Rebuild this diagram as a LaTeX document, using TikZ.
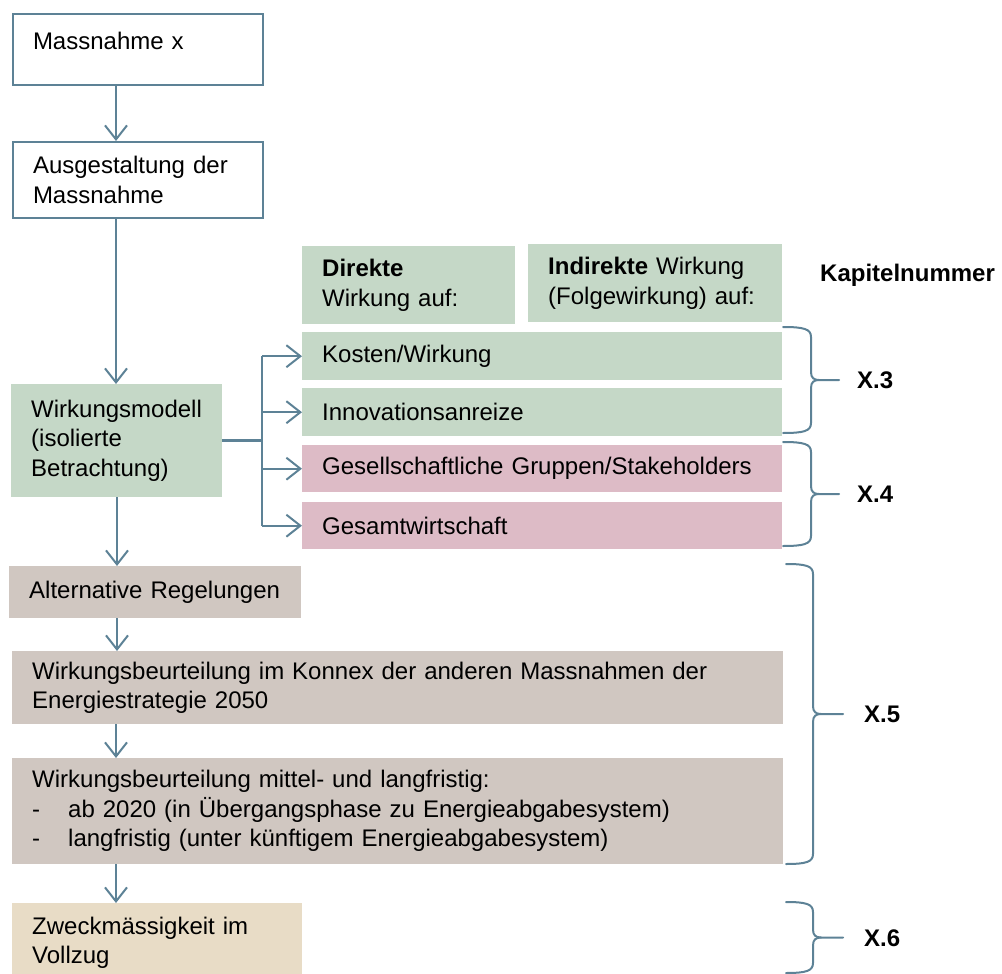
\documentclass[tikz,border=0pt]{standalone}
\usepackage{fontspec}
\setmainfont{Liberation Sans}
\usetikzlibrary{arrows.meta}

\definecolor{edge}{RGB}{93,130,150}
\definecolor{mgreen}{RGB}{197,216,199}
\definecolor{mpink}{RGB}{221,187,198}
\definecolor{mtaupe}{RGB}{208,199,193}
\definecolor{mbeige}{RGB}{232,220,198}

\tikzset{
  txt/.style={font=\fontsize{24}{29.5}\selectfont, text=black},
  boxbase/.style={txt, anchor=north west, align=left, inner xsep=20pt, inner ysep=0pt},
  outlinebox/.style={boxbase, draw=edge, line width=2pt, fill=white},
  filledbox/.style={boxbase, fill=#1, draw=none},
  arr/.style={draw=edge, line width=2pt, -{Straight Barb[length=14pt,width=22pt]}},
  fork/.style={draw=edge, line width=2pt},
  bracestyle/.style={draw=edge, line width=2pt, line cap=round},
  chap/.style={font=\fontsize{24}{29.5}\selectfont\bfseries, anchor=west, inner sep=0pt}
}

% curly brace: left x, spine x, tip x, top y, bottom y
\newcommand\chapbrace[5]{%
  \pgfmathsetmacro\chapmid{(#4+#5)/2}
  \draw[bracestyle] (#1,#4) .. controls ({#2-7},#4) and (#2,{#4+2}) .. (#2,{#4+10})
    -- (#2,{\chapmid-8}) .. controls (#2,{\chapmid-2}) and ({#2+3},\chapmid) .. ({#2+8},\chapmid)
    -- (#3,\chapmid);
  \draw[bracestyle] ({#2+8},\chapmid) .. controls ({#2+3},\chapmid) and (#2,{\chapmid+2}) .. (#2,{\chapmid+8})
    -- (#2,{#5-10}) .. controls (#2,{#5-2}) and ({#2-7},#5) .. (#1,#5);
}

\begin{document}
\begin{tikzpicture}[x=1pt, y=-1pt]
\useasboundingbox (0,0) rectangle (1002,974);

% main column
\node[outlinebox, minimum width=250pt, minimum height=71pt, text width=210pt,
      text height=17pt, text depth=17pt] (m1) at (12,13) {Massnahme x};
\node[outlinebox, minimum width=250pt, minimum height=76pt, text width=210pt] (m2) at (12,141)
  {Ausgestaltung der\\Massnahme};
\node[filledbox=mgreen, minimum width=211pt, minimum height=113pt, text width=171pt] (model) at (11,384)
  {Wirkungsmodell\\(isolierte\\Betrachtung)};

% effect headers and targets
\node[filledbox=mgreen, minimum width=213pt, minimum height=78pt, text width=173pt] (direkt) at (302,246)
  {\textbf{Direkte}\\Wirkung auf:};
\node[filledbox=mgreen, minimum width=254pt, minimum height=78pt, text width=214pt] (indirekt) at (528,244)
  {\textbf{Indirekte} Wirkung\\(Folgewirkung) auf:};
\node[filledbox=mgreen, minimum width=480pt, minimum height=48pt, text width=440pt] (kosten) at (302,332)
  {Kosten/Wirkung};
\node[filledbox=mgreen, minimum width=480pt, minimum height=48pt, text width=440pt] (innov) at (302,388)
  {Innovationsanreize};
\node[filledbox=mpink, minimum width=480pt, minimum height=47pt, text width=440pt] (gesell) at (302,445)
  {Gesellschaftliche Gruppen/Stakeholders};
\node[filledbox=mpink, minimum width=480pt, minimum height=47pt, text width=440pt] (gesamt) at (302,502)
  {Gesamtwirtschaft};

% assessment steps
\node[filledbox=mtaupe, minimum width=292pt, minimum height=52pt, text width=252pt] (alt) at (9,566)
  {Alternative Regelungen};
\node[filledbox=mtaupe, minimum width=771pt, minimum height=73pt, text width=731pt] (konnex) at (12,651)
  {Wirkungsbeurteilung im Konnex der anderen Massnahmen der\\Energiestrategie 2050};
\node[filledbox=mtaupe, minimum width=771pt, minimum height=106pt, text width=731pt] (mittel) at (12,758)
  {Wirkungsbeurteilung mittel- und langfristig:\\
   \makebox[36pt][l]{-}ab 2020 (in Übergangsphase zu Energieabgabesystem)\\
   \makebox[36pt][l]{-}langfristig (unter künftigem Energieabgabesystem)};
\node[filledbox=mbeige, minimum width=290pt, minimum height=79pt, text width=250pt] (zweck) at (12,903)
  {Zweckmässigkeit im\\Vollzug};

% vertical flow
\draw[arr] ([xshift=104pt]m1.south west) -- ([xshift=104pt]m2.north west);
\draw[arr] ([xshift=104pt]m2.south west) -- ([xshift=105pt]model.north west);
\draw[arr] ([xshift=106pt]model.south west) -- ([xshift=108pt]alt.north west);
\draw[arr] ([xshift=108pt]alt.south west) -- ([xshift=105pt]konnex.north west);
\draw[arr] ([xshift=104pt]konnex.south west) -- ([xshift=104pt]mittel.north west);
\draw[arr] ([xshift=104pt]mittel.south west) -- ([xshift=104pt]zweck.north west);

% fan-out from the impact model
\draw[fork, line width=3pt] (model.east) -- ++(40,0) coordinate (split);
\draw[fork] (split |- kosten.west) -- (split |- gesamt.west);
\draw[arr] (split |- kosten.west) -- (kosten.west);
\draw[arr] (split |- innov.west) -- (innov.west);
\draw[arr] (split |- gesell.west) -- (gesell.west);
\draw[arr] (split |- gesamt.west) -- (gesamt.west);

% chapter numbers
\node[chap] (kap) at (820,275) {Kapitelnummer};
\chapbrace{783}{811}{839}{327}{433}
\chapbrace{783}{811}{839}{442}{546}
\chapbrace{786}{813}{843}{564}{864}
\chapbrace{786}{813}{843}{902}{973}
\node[chap] (x3) at (857,380) {X.3};
\node[chap] (x4) at (857,494) {X.4};
\node[chap] (x5) at (864,714) {X.5};
\node[chap] (x6) at (864,938) {X.6};
\end{tikzpicture}
\end{document}
